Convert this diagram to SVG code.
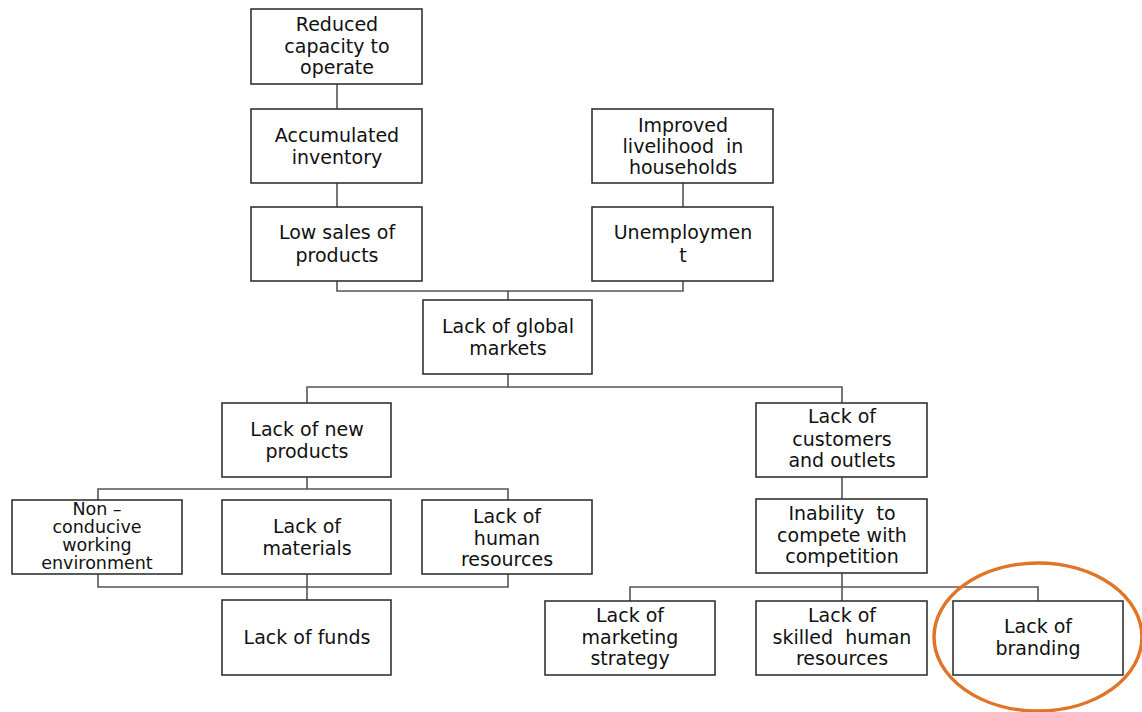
<svg xmlns="http://www.w3.org/2000/svg" width="1142" height="712" viewBox="0 0 1142 712">
<style>
.box{fill:#fff;stroke:#333;stroke-width:1.6}
.t{font-family:"DejaVu Sans","Verdana",sans-serif;font-size:19px;fill:#111;text-anchor:middle;white-space:pre}
.tight{font-size:17.5px}
.c{fill:none;stroke:#555;stroke-width:1.6}
</style>
<rect width="1142" height="712" fill="#fff"/>
<g id="connectors">
<path class="c" d="M337,84V109M337,183V207M683,183V207M337,281V291H683V281M508,291V300"/>
<path class="c" d="M508,374V387M307,403V387H842V403"/>
<path class="c" d="M307,477V489M98,500V489H508V500"/>
<path class="c" d="M98,574V587H508V574M307,574V600"/>
<path class="c" d="M842,477V499M842,573V601M630,601V587H1038V601"/>
</g>
<g id="n-reduced"><rect class="box" x="251" y="9" width="171" height="75"/><text class="t"><tspan x="337" y="31">Reduced</tspan><tspan x="337" y="53">capacity to</tspan><tspan x="337" y="74">operate</tspan></text></g>
<g id="n-accumulated"><rect class="box" x="251" y="109" width="171" height="74"/><text class="t"><tspan x="337" y="142">Accumulated</tspan><tspan x="337" y="164">inventory</tspan></text></g>
<g id="n-lowsales"><rect class="box" x="251" y="207" width="171" height="74"/><text class="t"><tspan x="337" y="239">Low sales of</tspan><tspan x="337" y="262">products</tspan></text></g>
<g id="n-improved"><rect class="box" x="592" y="109" width="181" height="74"/><text class="t"><tspan x="683" y="132">Improved</tspan><tspan x="683" y="153">livelihood  in</tspan><tspan x="683" y="174">households</tspan></text></g>
<g id="n-unemployment"><rect class="box" x="592" y="207" width="181" height="74"/><text class="t"><tspan x="683" y="239">Unemploymen</tspan><tspan x="683" y="262">t</tspan></text></g>
<g id="n-global"><rect class="box" x="423" y="300" width="169" height="74"/><text class="t"><tspan x="508" y="333">Lack of global</tspan><tspan x="508" y="355">markets</tspan></text></g>
<g id="n-newproducts"><rect class="box" x="222" y="403" width="169" height="74"/><text class="t"><tspan x="307" y="436">Lack of new</tspan><tspan x="307" y="458">products</tspan></text></g>
<g id="n-customers"><rect class="box" x="756" y="403" width="171" height="74"/><text class="t"><tspan x="842" y="423">Lack of</tspan><tspan x="842" y="446">customers</tspan><tspan x="842" y="467">and outlets</tspan></text></g>
<g id="n-nonconducive"><rect class="box" x="12" y="500" width="170" height="74"/><text class="t tight"><tspan x="97" y="515">Non –</tspan><tspan x="97" y="533">conducive</tspan><tspan x="97" y="551">working</tspan><tspan x="97" y="569">environment</tspan></text></g>
<g id="n-materials"><rect class="box" x="222" y="500" width="169" height="74"/><text class="t"><tspan x="307" y="533">Lack of</tspan><tspan x="307" y="555">materials</tspan></text></g>
<g id="n-humanres"><rect class="box" x="422" y="500" width="170" height="74"/><text class="t"><tspan x="507" y="523">Lack of</tspan><tspan x="507" y="545">human</tspan><tspan x="507" y="566">resources</tspan></text></g>
<g id="n-funds"><rect class="box" x="222" y="600" width="169" height="75"/><text class="t"><tspan x="307" y="644">Lack of funds</tspan></text></g>
<g id="n-inability"><rect class="box" x="756" y="499" width="171" height="74"/><text class="t"><tspan x="842" y="520">Inability  to</tspan><tspan x="842" y="542">compete with</tspan><tspan x="842" y="563">competition</tspan></text></g>
<g id="n-marketing"><rect class="box" x="545" y="601" width="170" height="74"/><text class="t"><tspan x="630" y="622">Lack of</tspan><tspan x="630" y="644">marketing</tspan><tspan x="630" y="665">strategy</tspan></text></g>
<g id="n-skilled"><rect class="box" x="756" y="601" width="171" height="74"/><text class="t"><tspan x="842" y="622">Lack of</tspan><tspan x="842" y="644">skilled  human</tspan><tspan x="842" y="665">resources</tspan></text></g>
<g id="n-branding"><rect class="box" x="953" y="601" width="170" height="74"/><text class="t"><tspan x="1038" y="633">Lack of</tspan><tspan x="1038" y="655">branding</tspan></text></g>
<g id="highlight"><ellipse cx="1038" cy="637" rx="104" ry="74" fill="none" stroke="#E07428" stroke-width="3.5"/></g>
</svg>
